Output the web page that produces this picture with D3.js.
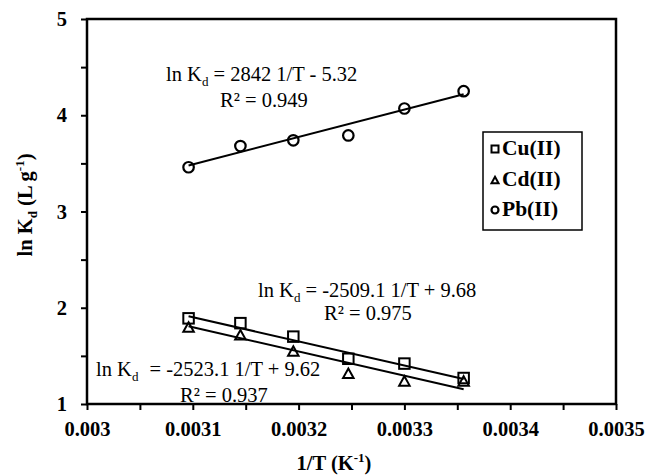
<!DOCTYPE html>
<html>
<head>
<meta charset="utf-8">
<script src="https://cdn.jsdelivr.net/npm/d3@7"></script>
<style>
  html, body { margin: 0; padding: 0; background: #fff; }
  svg { display: block; }
  text { font-family: "Liberation Serif", "Times New Roman", serif; fill: #000; }
</style>
</head>
<body>
<svg id="chart" width="646" height="475"></svg>
<script>
// Inverse temperature (1/T, K^-1) for the six runs
const invT = [0.003096, 0.003145, 0.003195, 0.003247, 0.003300, 0.003356];

// ln Kd for each metal ion
const cuValues = [1.89, 1.84, 1.70, 1.47, 1.42, 1.27];
const cdValues = [1.80, 1.72, 1.55, 1.32, 1.24, 1.24];
const pbValues = [3.46, 3.68, 3.74, 3.79, 4.07, 4.25];

// Van't Hoff fits: ln Kd = slope * (1/T) + intercept
const seriesNames = ["Cu(II)", "Cd(II)", "Pb(II)"];
const fitSlopes = [-2509.1, -2523.1, 2842];
const fitIntercepts = [9.68, 9.62, -5.32];
const fitR2 = ["0.975", "0.937", "0.949"];

// Axis ticks: every tick is drawn, labels only on the major ones
const xTickValues = [0.003, 0.00305, 0.0031, 0.00315, 0.0032, 0.00325, 0.0033, 0.00335, 0.0034, 0.00345, 0.0035];
const xTickLabels = ["0.003", "", "0.0031", "", "0.0032", "", "0.0033", "", "0.0034", "", "0.0035"];
const yTickValues = [1, 1.5, 2, 2.5, 3, 3.5, 4, 4.5, 5];
const yTickLabels = ["1", "", "2", "", "3", "", "4", "", "5"];

const svg = d3.select("#chart");
const plotLeft = 87, plotRight = 616, plotTop = 19, plotBottom = 404;

const x = d3.scaleLinear().domain([0.003, 0.0035]).range([plotLeft, plotRight]);
const y = d3.scaleLinear().domain([1, 5]).range([plotBottom, plotTop]);

// X axis
const xAxis = d3.axisBottom(x)
  .tickValues(xTickValues)
  .tickSize(6)
  .tickSizeOuter(0)
  .tickPadding(11)
  .tickFormat((d, i) => xTickLabels[i]);
const gx = svg.append("g").attr("transform", `translate(0,${plotBottom})`).call(xAxis);
gx.select(".domain").remove();
gx.selectAll(".tick line").attr("stroke", "#000").attr("stroke-width", 2);
gx.selectAll(".tick text")
  .attr("font-family", "Liberation Serif, serif")
  .attr("font-size", 20.5).attr("font-weight", "bold").attr("fill", "#000");

// Y axis
const yAxis = d3.axisLeft(y)
  .tickValues(yTickValues)
  .tickSize(6)
  .tickSizeOuter(0)
  .tickPadding(14)
  .tickFormat((d, i) => yTickLabels[i]);
const gy = svg.append("g").attr("transform", `translate(${plotLeft},0)`).call(yAxis);
gy.select(".domain").remove();
gy.selectAll(".tick line").attr("stroke", "#000").attr("stroke-width", 2);
gy.selectAll(".tick text")
  .attr("font-family", "Liberation Serif, serif")
  .attr("font-size", 20.5).attr("font-weight", "bold").attr("fill", "#000");

// Plot frame
svg.append("rect")
  .attr("x", plotLeft).attr("y", plotTop)
  .attr("width", plotRight - plotLeft).attr("height", plotBottom - plotTop)
  .attr("fill", "none").attr("stroke", "#000").attr("stroke-width", 2.5);

// Fitted lines from first to last temperature
const xFirst = invT[0], xLast = invT[invT.length - 1];
fitSlopes.forEach((m, i) => {
  const b = fitIntercepts[i];
  svg.append("line")
    .attr("x1", x(xFirst)).attr("y1", y(m * xFirst + b))
    .attr("x2", x(xLast)).attr("y2", y(m * xLast + b))
    .attr("stroke", "#000").attr("stroke-width", 2);
});

// Markers
function square(g, cx, cy, s) {
  g.append("rect").attr("x", cx - s / 2).attr("y", cy - s / 2)
    .attr("width", s).attr("height", s)
    .attr("fill", "none").attr("stroke", "#000").attr("stroke-width", 2);
}
function triangle(g, cx, cy, s) {
  const h = s * 0.9;
  g.append("path")
    .attr("d", `M${cx},${cy - h / 2}L${cx + s / 2},${cy + h / 2}L${cx - s / 2},${cy + h / 2}Z`)
    .attr("fill", "none").attr("stroke", "#000").attr("stroke-width", 2).attr("stroke-linejoin", "miter");
}
function circle(g, cx, cy, s) {
  g.append("circle").attr("cx", cx).attr("cy", cy).attr("r", s / 2)
    .attr("fill", "none").attr("stroke", "#000").attr("stroke-width", 2.2);
}
const marks = svg.append("g");
invT.forEach((t, i) => triangle(marks, x(t), y(cdValues[i]), 10.5));
invT.forEach((t, i) => square(marks, x(t), y(cuValues[i]), 10.5));
invT.forEach((t, i) => circle(marks, x(t), y(pbValues[i]), 10.5));

// Equation annotations
function equation(x0, y0, slope, intercept, r2, r2x, r2y, wideEq) {
  const t = svg.append("text").attr("x", x0).attr("y", y0).attr("font-size", 20.5);
  t.append("tspan").text("ln K");
  t.append("tspan").attr("font-size", 13).attr("dy", 5).text("d");
  const sign = intercept < 0 ? " - " : " + ";
  t.append("tspan").attr("dy", -5).attr("dx", wideEq ? 6 : 0)
    .text(` = ${slope} 1/T${sign}${Math.abs(intercept).toFixed(2)}`);
  svg.append("text").attr("x", r2x).attr("y", r2y).attr("font-size", 20.5)
    .text(`R² = ${r2}`);
}
equation(166, 81, fitSlopes[2], fitIntercepts[2], fitR2[2], 220, 107, false);
equation(258, 297, fitSlopes[0], fitIntercepts[0], fitR2[0], 324, 320, false);
equation(96, 376, fitSlopes[1], fitIntercepts[1], fitR2[1], 180, 402, true);

// Legend
const legend = svg.append("g");
legend.append("rect").attr("x", 483).attr("y", 132).attr("width", 99).attr("height", 98)
  .attr("fill", "#fff").attr("stroke", "#000").attr("stroke-width", 1.5);
const legendY = [149, 180, 210];
const legendMarks = [square, triangle, circle];
seriesNames.forEach((name, i) => {
  legendMarks[i](legend, 495, legendY[i], 7);
  legend.append("text").attr("x", 502).attr("y", legendY[i] + 6)
    .attr("font-size", 21.5).attr("font-weight", "bold").text(name);
});

// Axis titles
const xt = svg.append("text").attr("x", 334).attr("y", 470)
  .attr("text-anchor", "middle").attr("font-size", 20.5).attr("font-weight", "bold");
xt.append("tspan").text("1/T (K");
xt.append("tspan").attr("font-size", 13).attr("dy", -8).text("-1");
xt.append("tspan").attr("dy", 8).text(")");

const yt = svg.append("text")
  .attr("transform", "translate(32,205) rotate(-90)")
  .attr("text-anchor", "middle").attr("font-size", 20.5).attr("font-weight", "bold");
yt.append("tspan").text("ln K");
yt.append("tspan").attr("font-size", 13).attr("dy", 5).text("d");
yt.append("tspan").attr("dy", -5).text(" (L g");
yt.append("tspan").attr("font-size", 13).attr("dy", -8).text("-1");
yt.append("tspan").attr("dy", 8).text(")");
</script>
</body>
</html>
